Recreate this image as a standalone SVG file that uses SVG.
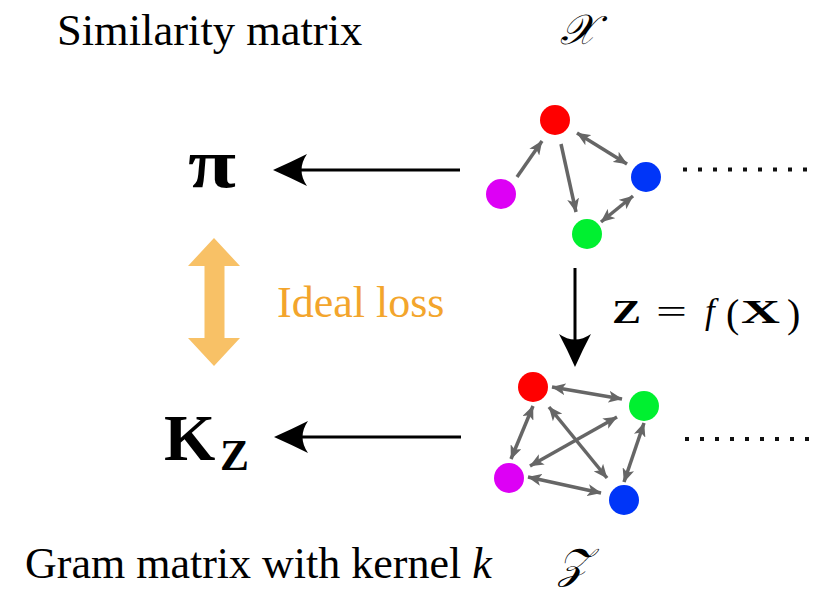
<svg xmlns="http://www.w3.org/2000/svg" width="823" height="589" viewBox="0 0 823 589">
<style>
.serif{font-family:"Liberation Serif","Times New Roman",serif;fill:#000}
.lbl{font-size:44px}
.g{stroke:#666;stroke-width:3.5;fill:none}
.blk{stroke:#000;stroke-width:3;fill:none}
.dots{stroke:#111;stroke-width:4;stroke-dasharray:4 11;fill:none}
</style>
<defs>
<marker id="gh" viewBox="0 0 14 12" markerWidth="14" markerHeight="12" refX="13.5" refY="6" orient="auto-start-reverse" markerUnits="userSpaceOnUse">
<path d="M0,0 L14,6 L0,12 L3.5,6 Z" fill="#666"/>
</marker>
</defs>
<rect width="823" height="589" fill="#fff"/>

<text class="serif" x="57" y="45" font-size="44.5">Similarity matrix</text>
<text class="serif" x="560" y="44" font-size="42" font-style="italic" font-family="'DejaVu Serif','Liberation Serif',serif">𝒳</text>
<text class="serif lbl" x="25" y="578">Gram matrix with kernel <tspan font-style="italic">k</tspan></text>
<text class="serif" x="558" y="578" font-size="42" font-style="italic" font-family="'DejaVu Serif','Liberation Serif',serif">𝒵</text>

<g id="pi"><text class="serif" x="188" y="187" font-size="70" font-weight="bold" textLength="48" lengthAdjust="spacingAndGlyphs">π</text></g>
<g id="kz"><text class="serif" x="164" y="460" font-size="66" font-weight="bold">K</text><text class="serif" x="220" y="470" font-size="44" font-weight="bold" textLength="29" lengthAdjust="spacingAndGlyphs">Z</text></g>

<g id="ideal-loss">
<path d="M214,238 L240,266 L224.5,266 L224.5,338 L240,338 L214,366 L188,338 L204.5,338 L204.5,266 L188,266 Z" fill="#F8C166"/>
<text class="serif lbl" x="277" y="317" style="fill:#F3A52C">Ideal loss</text>
</g>

<g id="fx">
<text class="serif" x="612" y="323" font-size="33" font-weight="bold" textLength="29" lengthAdjust="spacingAndGlyphs">Z</text>
<text class="serif" x="656" y="323" font-size="33" textLength="31" lengthAdjust="spacingAndGlyphs">=</text>
<text class="serif" x="705" y="323" font-size="35" font-style="italic">f</text>
<text class="serif" x="726" y="327" font-size="40">(</text>
<text class="serif" x="741" y="323" font-size="33" font-weight="bold" textLength="39" lengthAdjust="spacingAndGlyphs">X</text>
<text class="serif" x="787" y="327" font-size="40">)</text>
</g>

<g id="connectors">
<line class="blk" x1="460" y1="170" x2="300" y2="170"/>
<path d="M273,170 Q291,162 307,154 Q296,170 307,186 Q291,178 273,170 Z" fill="#000"/>
<line class="blk" x1="461" y1="437" x2="300" y2="437"/>
<path d="M274,437 Q292,429 308,421 Q297,437 308,453 Q292,445 274,437 Z" fill="#000"/>
<line class="blk" x1="575" y1="268" x2="575" y2="340"/>
<path d="M575,367 Q567,349 559,334 Q575,345 591,334 Q583,349 575,367 Z" fill="#000"/>

<line class="g" x1="517" y1="177" x2="542" y2="141" marker-end="url(#gh)"/>
<line class="g" x1="561" y1="144" x2="576" y2="212" marker-end="url(#gh)"/>
<line class="g" x1="577" y1="133" x2="627" y2="164" marker-start="url(#gh)" marker-end="url(#gh)"/>
<line class="g" x1="601" y1="222" x2="633" y2="196" marker-start="url(#gh)" marker-end="url(#gh)"/>

<line class="g" x1="552" y1="387" x2="622" y2="399" marker-start="url(#gh)" marker-end="url(#gh)"/>
<line class="g" x1="533" y1="406" x2="511" y2="459" marker-start="url(#gh)" marker-end="url(#gh)"/>
<line class="g" x1="549" y1="407" x2="607" y2="478" marker-start="url(#gh)" marker-end="url(#gh)"/>
<line class="g" x1="617" y1="417" x2="530" y2="466" marker-start="url(#gh)" marker-end="url(#gh)"/>
<line class="g" x1="644" y1="423" x2="624" y2="482" marker-start="url(#gh)" marker-end="url(#gh)"/>
<line class="g" x1="528" y1="477" x2="601" y2="493" marker-start="url(#gh)" marker-end="url(#gh)"/>

<line class="dots" x1="683" y1="169.5" x2="810" y2="169.5"/>
<line class="dots" x1="685" y1="439" x2="810" y2="439"/>
</g>

<g id="x-red"><circle cx="555" cy="120" r="15" fill="#FF0000"/></g>
<g id="x-magenta"><circle cx="501" cy="194" r="15" fill="#DD00F5"/></g>
<g id="x-blue"><circle cx="646" cy="177" r="15" fill="#0035F8"/></g>
<g id="x-green"><circle cx="587" cy="234" r="15" fill="#00F030"/></g>

<g id="z-red"><circle cx="533" cy="387" r="15" fill="#FF0000"/></g>
<g id="z-green"><circle cx="644" cy="406" r="15" fill="#00F030"/></g>
<g id="z-magenta"><circle cx="509" cy="478" r="15" fill="#DD00F5"/></g>
<g id="z-blue"><circle cx="624" cy="500" r="15" fill="#0035F8"/></g>
</svg>
